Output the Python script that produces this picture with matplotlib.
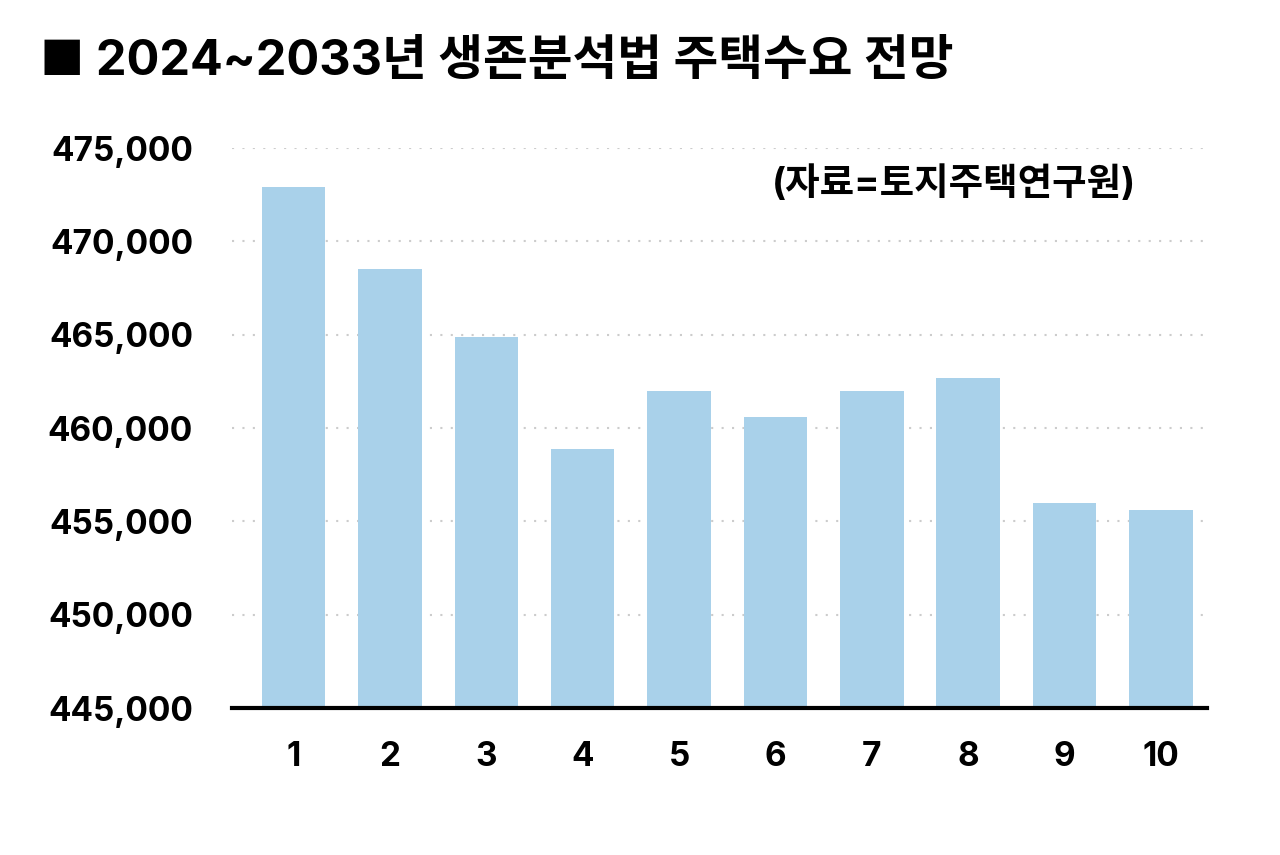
import matplotlib
matplotlib.use("Agg")
import matplotlib.pyplot as plt
from matplotlib.ticker import FuncFormatter

plt.rcParams['font.family'] = ['Inter', 'Noto Sans CJK KR', 'DejaVu Sans']
plt.rcParams['font.weight'] = 'bold'

years = [1, 2, 3, 4, 5, 6, 7, 8, 9, 10]
demand = [472900, 468500, 464900, 458900, 462000, 460600, 462000, 462700, 456000, 455600]
yticks = [445000, 450000, 455000, 460000, 465000, 470000, 475000]

fig = plt.figure(figsize=(12.8, 8.55), dpi=100)
ax = fig.add_axes([232/1280, 1-708/855, (1207-232)/1280, (708-148)/855])
ax.bar(years, demand, width=0.66, color='#a9d1ea', zorder=2)
ax.set_ylim(445000, 475000)
ax.set_xlim(0.36, 10.48)
ax.set_yticks(yticks)
ax.yaxis.set_major_formatter(FuncFormatter(lambda v, p: f"{int(v):,}"))
ax.set_xticks(years)
ax.grid(axis='y', linestyle=(0, (1, 4)), color='#cccccc', linewidth=1.5, zorder=0)
for s in ['top', 'right', 'left']:
    ax.spines[s].set_visible(False)
ax.spines['bottom'].set_linewidth(3)
ax.tick_params(axis='both', length=0, labelsize=24)
ax.tick_params(axis='x', pad=24)
ax.tick_params(axis='y', pad=28)
for t in ax.get_xticklabels() + ax.get_yticklabels():
    t.set_fontweight('bold')
ax.text(0.74, 0.935, '(자료=토지주택연구원)', transform=ax.transAxes, ha='center', va='center',
        fontsize=27, fontweight='bold')
fig.text(40/1280, 1-62/855, '■ 2024~2033년 생존분석법 주택수요 전망', fontsize=35, fontweight='bold',
         va='center', ha='left')
fig.savefig('out.png', dpi=100, facecolor='white')
